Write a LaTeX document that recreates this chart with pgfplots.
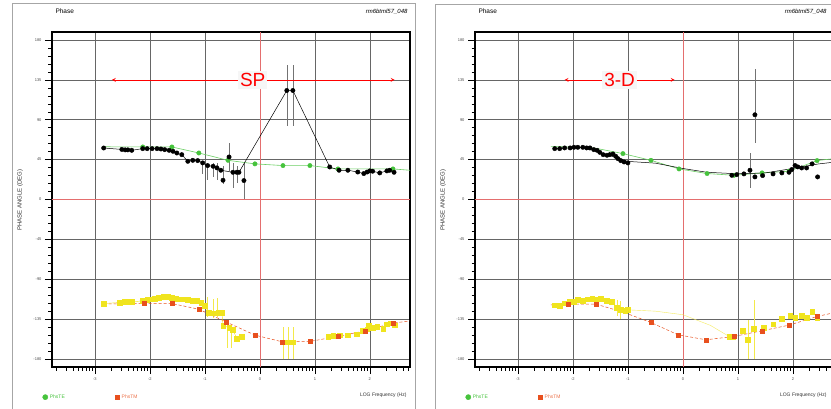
\documentclass[border=0pt]{standalone}
\usepackage{pgfplots}
\pgfplotsset{compat=1.18}
\usepackage{fontspec}
\setmainfont{Liberation Sans}
\definecolor{mygreen}{RGB}{70,195,60}
\definecolor{myyellow}{RGB}{240,228,30}
\definecolor{myred}{RGB}{232,80,30}
\definecolor{gridred}{RGB}{228,110,110}
\pgfplotsset{
  panel/.style={
    scale only axis, width=358pt, height=335pt,
    xmin=-3.78, xmax=2.73, ymin=-189, ymax=189,
    xtick={-3,-2,-1,0,1,2},
    minor xtick={-3.699,-3.523,-3.398,-3.301,-3.222,-3.155,-3.097,-3.046,
      -2.699,-2.523,-2.398,-2.301,-2.222,-2.155,-2.097,-2.046,
      -1.699,-1.523,-1.398,-1.301,-1.222,-1.155,-1.097,-1.046,
      -0.699,-0.523,-0.398,-0.301,-0.222,-0.155,-0.097,-0.046,
      0.301,0.477,0.602,0.699,0.778,0.845,0.903,0.954,
      1.301,1.477,1.602,1.699,1.778,1.845,1.903,1.954,
      2.301,2.477,2.602,2.699},
    ytick={-180,-135,-90,-45,0,45,90,135,180},
    minor y tick num=4,
    tick align=outside, xtick pos=bottom, ytick pos=left,
    major tick length=7pt, minor tick length=3.5pt,
    tick style={black, line width=0.5pt},
    xmajorgrids, ymajorgrids,
    grid style={black!60, line width=0.5pt},
    axis line style={black, line width=1.3pt},
    ticklabel style={font=\fontsize{4}{5}\selectfont, text=black!70},
    /pgf/number format/assume math mode=true,
    legend style={at={(rel axis cs:-0.035,-0.09)}, anchor=west, draw=none, fill=none,
      font=\fontsize{5}{6}\selectfont, legend columns=2,
      /tikz/every even column/.append style={column sep=48pt}},
    clip=true,
  },
  blk/.style={black, only marks, mark=*, mark size=2.2pt, forget plot},
  grn/.style={mygreen, only marks, mark=*, mark size=2.2pt, forget plot},
  yel/.style={myyellow, only marks, mark=square*, mark size=2.3pt, forget plot},
  rsq/.style={myred, only marks, mark=square*, mark size=2pt, forget plot},
  ebk/.style={black!55, line width=0.5pt, mark=none, draw=none, forget plot,
     error bars/.cd, y dir=both, y explicit, error mark=none,
     error bar style={black!55, line width=0.5pt}},
  eyl/.style={myyellow, mark=none, draw=none, forget plot,
     error bars/.cd, y dir=both, y explicit, error mark=none,
     error bar style={myyellow!80!white, line width=0.5pt}},
}
\begin{document}
\begin{tikzpicture}
\useasboundingbox (0,0) rectangle (831pt,408pt);
\fill[white] (0,0) rectangle (831pt,408pt);
\draw[black!35, line width=0.6pt] (12pt,-3pt) rectangle (415pt,405pt);
\draw[black!35, line width=0.6pt] (435pt,-3pt) rectangle (838pt,404pt);
% ---------------- LEFT PANEL ----------------
\begin{axis}[panel, at={(52pt,376pt)}, anchor=north west]
\draw[gridred, line width=0.6pt] (axis cs:0,-189) -- (axis cs:0,189);
\draw[gridred, line width=0.6pt] (axis cs:-3.78,0) -- (axis cs:2.73,0);
\addplot[ebk] coordinates {
 (-1.04,41.3) += (0,2) -= (0,13)
 (-0.95,38.3) += (0,3) -= (0,16)
 (-0.85,37.5) += (0,4) -= (0,12)
 (-0.78,35.7) += (0,6) -= (0,14)
 (-0.67,21.7) += (0,16) -= (0,4)
 (-0.56,48) += (0,16) -= (0,16)
 (-0.49,30.7) += (0,10) -= (0,18)
 (-0.42,30.7) += (0,7) -= (0,12)
 (-0.29,21.4) += (0,20) -= (0,21)
 (0.49,123) += (0,29) -= (0,40)
 (0.60,123) += (0,29) -= (0,40)
};
\addplot[eyl] coordinates {
 (-0.95,-121) += (0,11) -= (0,12)
 (-0.85,-124) += (0,12) -= (0,10)
 (-0.78,-123) += (0,12) -= (0,10)
 (-0.60,-150) += (0,8) -= (0,18)
 (-0.52,-152) += (0,8) -= (0,16)
 (0.43,-160) += (0,16) -= (0,20)
 (0.52,-160) += (0,16) -= (0,20)
 (0.60,-160) += (0,16) -= (0,20)
};
\addplot[mygreen!80, line width=0.6pt, forget plot] coordinates {
 (-2.84,59.5)(-2.13,59.3)(-1.60,59.3)(-1.11,52.5)(-0.58,44.2)(-0.09,40.2)(0.42,38.3)(0.91,38.3)(1.42,34.5)(2.42,34.5)(2.73,33)};
\addplot[myred, densely dashed, line width=0.5pt, forget plot] coordinates {
 (-2.84,-118)(-2.11,-117)(-1.60,-117.4)(-1.11,-123.8)(-0.62,-138)(-0.09,-153)(0.40,-160.5)(0.91,-160.1)(1.42,-154.5)(1.91,-148.1)(2.42,-139.5)(2.73,-137)};
\addplot[black, line width=0.5pt, forget plot] coordinates {
 (-2.84,58.1)(-2.51,56.5)(-2.45,56)(-2.40,56)(-2.33,55.5)(-2.13,57.4)(-2.05,57.4)(-1.96,57.4)(-1.87,57.4)(-1.80,57)(-1.73,56.3)(-1.65,55.5)(-1.58,54.4)(-1.51,52.5)(-1.42,50.6)(-1.31,43.1)(-1.22,44.2)(-1.13,43.9)(-1.04,41.3)(-0.95,38.3)(-0.85,37.5)(-0.78,35.7)(-0.71,33.0)(-0.49,30.7)(-0.42,30.7)(-0.38,30.7)(0.49,123)(0.60,123)(1.27,36.7)(1.44,33)(1.60,33)(1.78,31)(1.89,29.3)(1.95,31)(2.00,32.3)(2.05,31.9)(2.18,30)(2.31,32.3)(2.36,33)(2.44,30.7)};
\addplot[myyellow, line width=0.4pt, forget plot] coordinates {
 (-2.84,-117.4)(-2.55,-116.2)(-2.47,-115.5)(-2.40,-115.5)(-2.33,-115.5)(-2.13,-114.4)(-2.05,-113.3)(-1.98,-112.5)(-1.91,-111.7)(-1.84,-110.6)(-1.76,-109.9)(-1.67,-109.9)(-1.60,-110.6)(-1.53,-111.7)(-1.45,-112.5)(-1.38,-112.5)(-1.31,-113.3)(-1.22,-114.4)(-1.15,-114.4)(-1.07,-116.2)(-1.00,-120)(-0.93,-127.5)(-0.85,-128.3)(-0.76,-127.5)(-0.69,-127.5)(-0.67,-142.5)(-0.56,-144.4)(-0.49,-147)(-0.42,-156.8)(-0.33,-154.5)};
\addplot[grn] coordinates {(-2.13,59.3)(-1.60,59.3)(-1.11,52.5)(-0.58,44.2)(-0.09,40.2)(0.42,38.3)(0.91,38.3)(1.42,34.5)(2.42,34.5)};
\addplot[blk] coordinates {
 (-2.84,58.1)(-2.51,56.5)(-2.45,56)(-2.40,56)(-2.33,55.5)(-2.13,57.4)(-2.05,57.4)(-1.96,57.4)(-1.87,57.4)(-1.80,57)(-1.73,56.3)(-1.65,55.5)(-1.58,54.4)(-1.51,52.5)(-1.42,50.6)(-1.31,43.1)(-1.22,44.2)(-1.13,43.9)(-1.04,41.3)(-0.95,38.3)(-0.85,37.5)(-0.78,35.7)(-0.71,33.0)(-0.67,21.7)(-0.56,48)(-0.49,30.7)(-0.42,30.7)(-0.38,30.7)(-0.29,21.4)(0.49,123)(0.60,123)(1.27,36.7)(1.44,33)(1.60,33)(1.78,31)(1.89,29.3)(1.95,31)(2.00,32.3)(2.05,31.9)(2.18,30)(2.31,32.3)(2.36,33)(2.44,30.7)};
\addplot[yel] coordinates {
 (-2.84,-117.4)(-2.55,-116.2)(-2.47,-115.5)(-2.40,-115.5)(-2.33,-115.5)(-2.13,-114.4)(-2.05,-113.3)(-1.98,-112.5)(-1.91,-111.7)(-1.84,-110.6)(-1.76,-109.9)(-1.67,-109.9)(-1.60,-110.6)(-1.53,-111.7)(-1.45,-112.5)(-1.38,-112.5)(-1.31,-113.3)(-1.22,-114.4)(-1.15,-114.4)(-1.07,-116.2)(-1.00,-120)(-0.93,-127.5)(-0.85,-128.3)(-0.76,-127.5)(-0.69,-127.5)(-0.67,-142.5)(-0.56,-144.4)(-0.49,-147)(-0.42,-156.8)(-0.33,-154.5)
 (0.42,-161.2)(0.51,-161.2)(0.60,-161.2)
 (1.24,-154.5)(1.33,-153.8)(1.45,-153)(1.60,-153)(1.76,-151.9)(1.87,-148.1)(1.95,-146.2)(1.98,-142.5)(2.05,-144.4)(2.13,-143.2)(2.24,-145.5)(2.31,-140.6)(2.38,-139.5)(2.45,-141.7)};
\addplot[rsq] coordinates {(-2.11,-117)(-1.60,-117.4)(-1.11,-123.8)(-0.62,-138)(-0.09,-153)(0.40,-160.5)(0.91,-160.1)(1.42,-154.5)(1.91,-148.1)(2.42,-139.5)};
\draw[red, line width=0.7pt, <->, >=stealth] (axis cs:-2.69,135) -- (axis cs:2.45,135);
\node[fill=gray!7, text=red, inner sep=2pt, font=\fontsize{19}{19}\selectfont] at (axis cs:-0.13,135) {SP};
\addlegendimage{only marks, mark=*, mygreen, mark size=2.6pt}
\addlegendentry{\textcolor{mygreen}{PhsTE}}
\addlegendimage{only marks, mark=square*, myred, mark size=2.4pt}
\addlegendentry{\textcolor{myred!80}{PhsTM}}
\end{axis}
\node[anchor=west, font=\fontsize{6.5}{7}\selectfont] at (52pt,397pt) {Phase};
\node[anchor=east, font=\fontsize{6}{7}\selectfont\itshape] at (411pt,396pt) {rm6btml57\_048};
\node[rotate=90, font=\fontsize{6}{7}\selectfont, text=black!80] at (20pt,208pt) {PHASE ANGLE (DEG)};
\node[anchor=east, font=\fontsize{5}{6}\selectfont, text=black!80] at (410pt,13pt) {LOG Frequency (Hz)};
% ---------------- RIGHT PANEL ----------------
\begin{axis}[panel, at={(475pt,376pt)}, anchor=north west]
\draw[gridred, line width=0.6pt] (axis cs:0,-189) -- (axis cs:0,189);
\draw[gridred, line width=0.6pt] (axis cs:-3.78,0) -- (axis cs:2.73,0);
\addplot[ebk] coordinates {
 (1.22,33) += (0,20) -= (0,20)
 (1.31,95.6) += (0,52) -= (0,32)
};
\addplot[eyl] coordinates {
 (-1.20,-121.9) += (0,9) -= (0,10)
 (-1.13,-124.5) += (0,10) -= (0,10)
 (1.18,-158.3) += (0,22) -= (0,22)
 (1.29,-145.5) += (0,32) -= (0,35)
};
\addplot[mygreen!80, line width=0.6pt, forget plot] coordinates {
 (-2.40,60)(-1.60,58)(-1.09,51.8)(-0.58,44.2)(-0.07,34.5)(0.44,29.3)(0.93,27.3)(1.44,30)(1.93,31.9)(2.44,43.9)(2.73,46)};
\addplot[black, line width=0.5pt, forget plot] coordinates {
 (-2.33,57.4)(-1.82,58.9)(-1.50,53)(-1.00,43)(-0.50,41)(0.00,35)(0.44,30.7)(1.00,29)(1.50,30)(2.00,35)(2.45,40)(2.73,42)};
\addplot[myred, densely dashed, line width=0.5pt, forget plot] coordinates {
 (-2.40,-119)(-2.09,-118.1)(-1.58,-118.1)(-1.09,-127)(-0.58,-138.8)(-0.09,-152.6)(0.42,-158.3)(0.93,-154.5)(1.44,-148.1)(1.93,-141.8)(2.44,-132)(2.73,-128)};
\addplot[myyellow!70, line width=0.4pt, forget plot] coordinates {
 (-2.33,-119.3)(-2.24,-120)(-2.15,-117)(-2.07,-115.5)(-1.98,-115.5)(-1.91,-113.3)(-1.82,-114.4)(-1.73,-112.5)(-1.65,-111.7)(-1.56,-112.5)(-1.49,-111.7)(-1.38,-114.4)(-1.29,-115.5)(-1.20,-121.9)(-1.13,-124.5)(-1.05,-125.6)(-1.0,-124.5)(-0.5,-126)(0.0,-130)(0.5,-142)(0.85,-154.9)};
\addplot[grn] coordinates {(-1.09,51.8)(-0.58,44.2)(-0.07,34.5)(0.44,29.3)(0.93,27.3)(1.44,30)(1.93,31.9)(2.44,43.9)};
\addplot[blk] coordinates {
 (-2.33,57.4)(-2.24,57.4)(-2.15,58.2)(-2.05,58.2)(-1.98,58.9)(-1.91,58.9)(-1.82,58.9)(-1.75,58.2)(-1.69,58.2)(-1.62,56.3)(-1.56,55.5)(-1.51,53.2)(-1.45,50.6)(-1.38,49.9)(-1.33,50.6)(-1.27,51.4)(-1.22,48.7)(-1.18,46.1)(-1.13,43.9)(-1.07,42.4)(-1.00,41.3)
 (0.89,27.3)(0.98,28.1)(1.11,28.9)(1.22,33)(1.31,25.5)(1.45,27)(1.64,28.9)(1.80,30)(1.93,30.7)(1.98,33.8)(2.04,38.3)(2.09,36.8)(2.16,35.6)(2.25,35.6)(2.35,40.2)(2.45,25.5)
 (1.31,95.6)};
\addplot[yel] coordinates {
 (-2.33,-119.3)(-2.24,-120)(-2.15,-117)(-2.07,-115.5)(-1.98,-115.5)(-1.91,-113.3)(-1.82,-114.4)(-1.73,-112.5)(-1.65,-111.7)(-1.56,-112.5)(-1.49,-111.7)(-1.38,-114.4)(-1.29,-115.5)(-1.20,-121.9)(-1.13,-124.5)(-1.05,-125.6)(-1.00,-124.5)
 (0.85,-154.9)(0.91,-154.5)(1.09,-148.1)(1.18,-158.3)(1.29,-145.5)(1.47,-144.4)(1.64,-140.6)(1.80,-134.3)(1.95,-131.3)(2.04,-133.1)(2.16,-131.3)(2.25,-133.1)(2.35,-126.8)(2.44,-133.1)};
\addplot[rsq] coordinates {(-2.09,-118.1)(-1.58,-118.1)(-0.58,-138.8)(-0.09,-152.6)(0.42,-158.3)(0.93,-154.5)(1.44,-148.1)(1.93,-141.8)(2.44,-132)};
\draw[red, line width=0.7pt, <->, >=stealth] (axis cs:-2.15,135) -- (axis cs:-0.15,135);
\node[fill=gray!7, text=red, inner sep=2pt, font=\fontsize{19}{19}\selectfont] at (axis cs:-1.15,135) {3-D};
\addlegendimage{only marks, mark=*, mygreen, mark size=2.6pt}
\addlegendentry{\textcolor{mygreen}{PhsTE}}
\addlegendimage{only marks, mark=square*, myred, mark size=2.4pt}
\addlegendentry{\textcolor{myred!80}{PhsTM}}
\end{axis}
\node[anchor=west, font=\fontsize{6.5}{7}\selectfont] at (475pt,397pt) {Phase};
\node[anchor=east, font=\fontsize{6}{7}\selectfont\itshape] at (830pt,396pt) {rm6btml57\_048};
\node[rotate=90, font=\fontsize{6}{7}\selectfont, text=black!80] at (443pt,208pt) {PHASE ANGLE (DEG)};
\node[anchor=east, font=\fontsize{5}{6}\selectfont, text=black!80] at (830pt,13pt) {LOG Frequency (Hz)};
\end{tikzpicture}
\end{document}
